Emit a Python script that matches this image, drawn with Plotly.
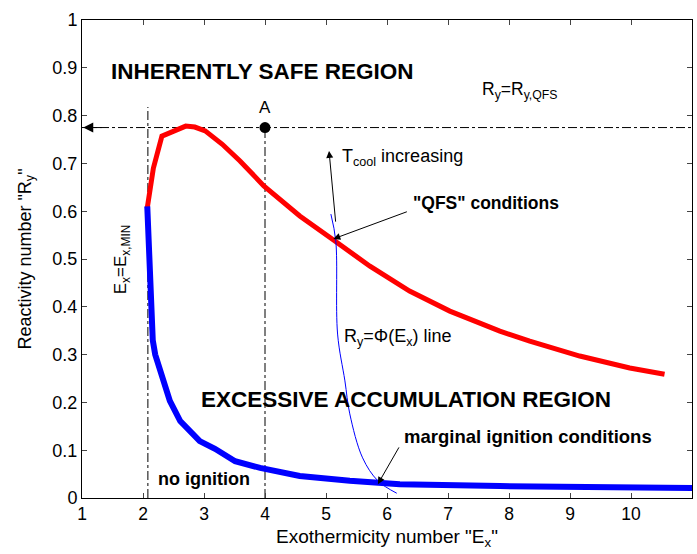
import plotly.graph_objects as go

# Red curve: "QFS" conditions boundary
red_x = [2.07, 2.17, 2.31, 2.50, 2.70, 2.85, 3.02, 3.30, 3.59, 3.98, 4.57, 5.14, 5.72, 6.37, 7.03, 7.85, 8.34, 9.16, 9.98, 10.55]
red_y = [0.607, 0.690, 0.757, 0.768, 0.778, 0.776, 0.768, 0.740, 0.705, 0.653, 0.590, 0.538, 0.485, 0.433, 0.391, 0.349, 0.328, 0.297, 0.272, 0.259]

# Blue curve: marginal ignition boundary
blue_x = [2.07, 2.09, 2.11, 2.13, 2.15, 2.16, 2.20, 2.28, 2.44, 2.61, 2.93, 3.18, 3.51, 3.92, 4.57, 5.39, 6.21, 7.85, 9.49, 11.0]
blue_y = [0.610, 0.560, 0.496, 0.450, 0.410, 0.330, 0.300, 0.266, 0.203, 0.161, 0.119, 0.103, 0.077, 0.063, 0.046, 0.036, 0.029, 0.025, 0.022, 0.021]

# Thin blue line Ry = Phi(Ex)
phi_x = [5.08, 5.16, 5.19, 5.31, 5.39, 5.60, 5.85, 6.16]
phi_y = [0.594, 0.538, 0.343, 0.245, 0.176, 0.084, 0.036, 0.010]

ry_qfs = 0.775
ex_min = 2.08
point_a = (4.0, 0.775)

x_ticks = [1, 2, 3, 4, 5, 6, 7, 8, 9, 10, 11]
y_ticks = [0, 0.1, 0.2, 0.3, 0.4, 0.5, 0.6, 0.7, 0.8, 0.9, 1]
y_tick_labels = ["0", "0.1", "0.2", "0.3", "0.4", "0.5", "0.6", "0.7", "0.8", "0.9", "1"]

FONT = "Liberation Sans, Arial, sans-serif"

fig = go.Figure()

# dash-dot reference lines
fig.add_trace(go.Scatter(x=[1, 11], y=[ry_qfs, ry_qfs], mode="lines",
                         line=dict(color="black", width=1, dash="dashdot"), showlegend=False))
fig.add_trace(go.Scatter(x=[ex_min, ex_min], y=[0, 0.818], mode="lines",
                         line=dict(color="black", width=1, dash="dashdot"), showlegend=False))
fig.add_trace(go.Scatter(x=[point_a[0], point_a[0]], y=[0, point_a[1]], mode="lines",
                         line=dict(color="black", width=1, dash="dashdot"), showlegend=False))

fig.add_trace(go.Scatter(x=red_x, y=red_y, mode="lines",
                         line=dict(color="#ff0000", width=5), showlegend=False))
fig.add_trace(go.Scatter(x=blue_x, y=blue_y, mode="lines",
                         line=dict(color="#0000ff", width=6), showlegend=False))
fig.add_trace(go.Scatter(x=phi_x, y=phi_y, mode="lines", line_shape="spline",
                         line=dict(color="#0000ff", width=1), showlegend=False))
fig.add_trace(go.Scatter(x=[point_a[0]], y=[point_a[1]], mode="markers",
                         marker=dict(color="black", size=11), showlegend=False))

ann = []
def txt(x, y, s, size=14, bold=False, xanchor="left", angle=0):
    ann.append(dict(x=x, y=y, xref="x", yref="y", text=("<b>%s</b>" % s) if bold else s,
                    showarrow=False, xanchor=xanchor, yanchor="middle", textangle=angle,
                    font=dict(family=FONT, size=size, color="black")))

txt(1.44, 0.893, "INHERENTLY SAFE REGION", size=22.5, bold=True)
txt(7.53, 0.852, "R<sub>y</sub>=R<sub>y,QFS</sub>", size=17.5)
txt(4.0, 0.818, "A", size=17, xanchor="center")
txt(5.23, 0.712, "T<sub>cool</sub> increasing", size=18)
txt(6.39, 0.617, "\"QFS\" conditions", size=17.5, bold=True)
txt(5.26, 0.335, "R<sub>y</sub>=Φ(E<sub>x</sub>) line", size=18)
txt(1.66, 0.50, "E<sub>x</sub>=E<sub>x,MIN</sub>", size=17, xanchor="center", angle=-90)
txt(2.92, 0.207, "EXCESSIVE ACCUMULATION REGION", size=22.5, bold=True)
txt(6.25, 0.128, "marginal ignition conditions", size=18.5, bold=True)
txt(2.21, 0.04, "no ignition", size=18, bold=True)

def arrow(x0, y0, x1, y1, size=1.4):
    ann.append(dict(x=x1, y=y1, ax=x0, ay=y0, xref="x", yref="y", axref="x", ayref="y",
                    text="", showarrow=True, arrowhead=2, arrowsize=size, arrowwidth=1,
                    arrowcolor="black"))

arrow(6.35, 0.600, 5.12, 0.542)
arrow(5.16, 0.575, 5.05, 0.726)
arrow(6.21, 0.109, 5.85, 0.029)
arrow(1.35, ry_qfs, 1.02, ry_qfs, size=2)

fig.update_layout(
    width=697, height=554,
    margin=dict(l=82, r=5, t=20, b=56),
    paper_bgcolor="white", plot_bgcolor="white",
    font=dict(family=FONT, size=15, color="black"),
    annotations=ann,
    xaxis=dict(range=[1, 11], tickvals=x_ticks, ticks="inside", ticklen=5,
               showline=True, linecolor="black", linewidth=1, mirror="ticks",
               showgrid=False, zeroline=False, tickfont=dict(size=17.5),
               title=dict(text="Exothermicity number \"E<sub>x</sub>\"", font=dict(size=19), standoff=6)),
    yaxis=dict(range=[0, 1], tickvals=y_ticks, ticktext=y_tick_labels, ticks="inside", ticklen=5,
               showline=True, linecolor="black", linewidth=1, mirror="ticks",
               showgrid=False, zeroline=False, tickfont=dict(size=18),
               title=dict(text="Reactivity number \"R<sub>y</sub>\"", font=dict(size=18), standoff=16)),
)

fig.write_html("out.html")
